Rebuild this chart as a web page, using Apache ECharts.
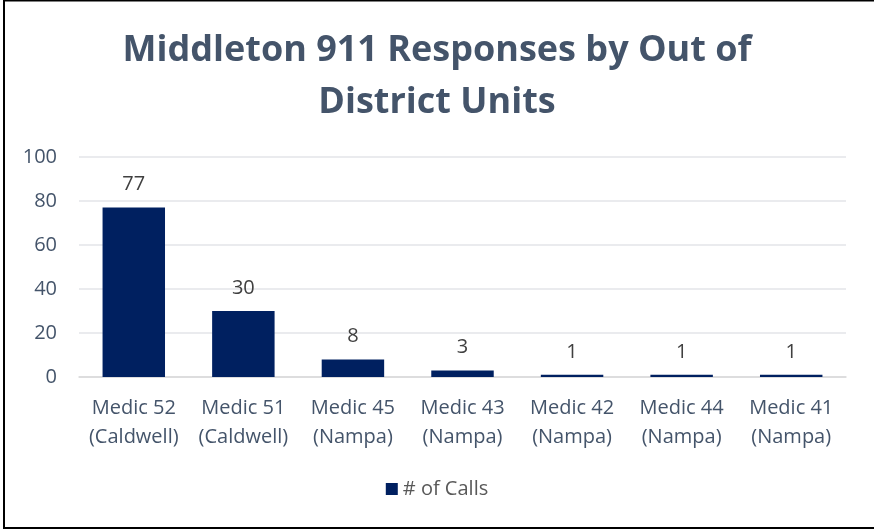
<!DOCTYPE html>
<html><head><meta charset="utf-8">
<script src="https://cdn.jsdelivr.net/npm/echarts@6/dist/echarts.min.js"></script>
<style>html,body{margin:0;padding:0;background:#fff}#c{width:874px;height:531px}</style>
</head><body><div id="c"></div>
<script>
const categories = ['Medic 52\n(Caldwell)','Medic 51\n(Caldwell)','Medic 45\n(Nampa)','Medic 43\n(Nampa)','Medic 42\n(Nampa)','Medic 44\n(Nampa)','Medic 41\n(Nampa)'];
const calls = [77, 30, 8, 3, 1, 1, 1];
const seriesName = '# of Calls';
const titleText = 'Middleton 911 Responses by Out of\nDistrict Units';

const chart = echarts.init(document.getElementById('c'), null, {renderer:'canvas'});
const txt = '#44546A';
chart.setOption({
  animation:false,
  backgroundColor:'#fff',
  title:{text:titleText,left:'center',top:20,textStyle:{fontFamily:'Open Sans',fontWeight:'bold',fontSize:36,color:txt,lineHeight:52}},
  grid:{left:79,right:28,top:157,bottom:154,containLabel:false},
  legend:{bottom:27,left:'center',itemWidth:12,itemHeight:12,itemGap:3,icon:'rect',textStyle:{fontFamily:'Open Sans',fontSize:20,color:'#595959'},data:[seriesName]},
  xAxis:{type:'category',data:categories,axisTick:{show:false},axisLine:{lineStyle:{color:'#D9D9D9',width:1.5}},
    axisLabel:{interval:0,color:txt,fontFamily:'Open Sans',fontSize:20,lineHeight:29,margin:17}},
  yAxis:{type:'value',min:0,max:100,interval:20,axisLine:{show:false},axisTick:{show:false},
    splitLine:{lineStyle:{color:'#E3E5E8',width:1.5}},
    axisLabel:{color:txt,fontFamily:'Open Sans',fontSize:20,margin:22}},
  series:[{name:seriesName,type:'bar',data:calls,barWidth:'57%',itemStyle:{color:'#002060'},
    label:{show:true,position:'top',distance:13,color:'#404040',fontFamily:'Open Sans',fontSize:20}}],
  graphic:[
    {type:'rect',shape:{x:3,y:0,width:2,height:529},style:{fill:'#000'}},
    {type:'rect',shape:{x:3,y:0,width:871,height:1.5},style:{fill:'#000'}},
    {type:'rect',shape:{x:3,y:527,width:871,height:2},style:{fill:'#000'}}
  ]
});
</script></body></html>
